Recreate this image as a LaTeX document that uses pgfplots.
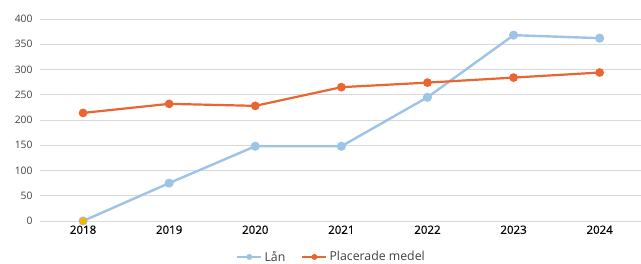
\documentclass[border=0pt]{standalone}
\usepackage{pgfplots}
\pgfplotsset{compat=1.18}
\usepackage{fontspec}
\setmainfont{Open Sans}
\newfontfamily\semib[FakeBold=0.5]{Open Sans}
\definecolor{lanblue}{HTML}{9DC3E6}
\definecolor{plorange}{HTML}{EB6530}
\definecolor{firstyellow}{HTML}{F5B400}
\definecolor{gridgray}{HTML}{D9D9D9}
\definecolor{ticktext}{HTML}{404040}
\begin{document}
\begin{tikzpicture}[x=1pt,y=1pt]
\useasboundingbox (0,0) rectangle (641,264);
\begin{axis}[
  at={(40pt,43pt)}, anchor=south west,
  scale only axis, width=601pt, height=202pt,
  xmin=-0.5, xmax=6.48, ymin=0, ymax=400,
  axis line style={draw=none},
  ymajorgrids, grid style={gridgray, line width=0.9pt},
  ytick={0,50,...,400},
  xtick={0,...,6},
  xticklabels={2018,2019,2020,2021,2022,2023,2024},
  tick style={draw=none},
  /pgf/number format/assume math mode=true,
  yticklabel style={font=\fontsize{10.3}{11}\selectfont, text=ticktext, xshift=-4pt},
  xticklabel style={font=\semib\fontsize{11.5}{12}\selectfont, text=black, yshift=-1pt},
  legend style={at={(0.485,-0.178)}, anchor=center, draw=none, fill=none,
    font=\fontsize{12.3}{14}\selectfont, text=ticktext,
    /tikz/every even column/.append style={column sep=14pt}},
  legend columns=2,
  legend image code/.code={\draw[#1] (0pt,0pt) -- (24pt,0pt); \fill[#1,draw=none] (12pt,0pt) circle (3pt);},
]
\addplot[lanblue, line width=2.4pt, mark=*, mark size=3.3pt] coordinates {
(0,0) (1,75) (2,148) (3,148) (4,245) (5,368) (6,362)};
\addlegendentry{Lån}
\addplot[plorange, line width=2.2pt, mark=*, mark size=3.2pt] coordinates {
(0,214) (1,232) (2,228) (3,265) (4,274) (5,284) (6,294)};
\addlegendentry{Placerade medel}
\addplot[firstyellow, only marks, mark=*, mark size=3.4pt, forget plot] coordinates {(0,0)};
\end{axis}
\end{tikzpicture}
\end{document}
